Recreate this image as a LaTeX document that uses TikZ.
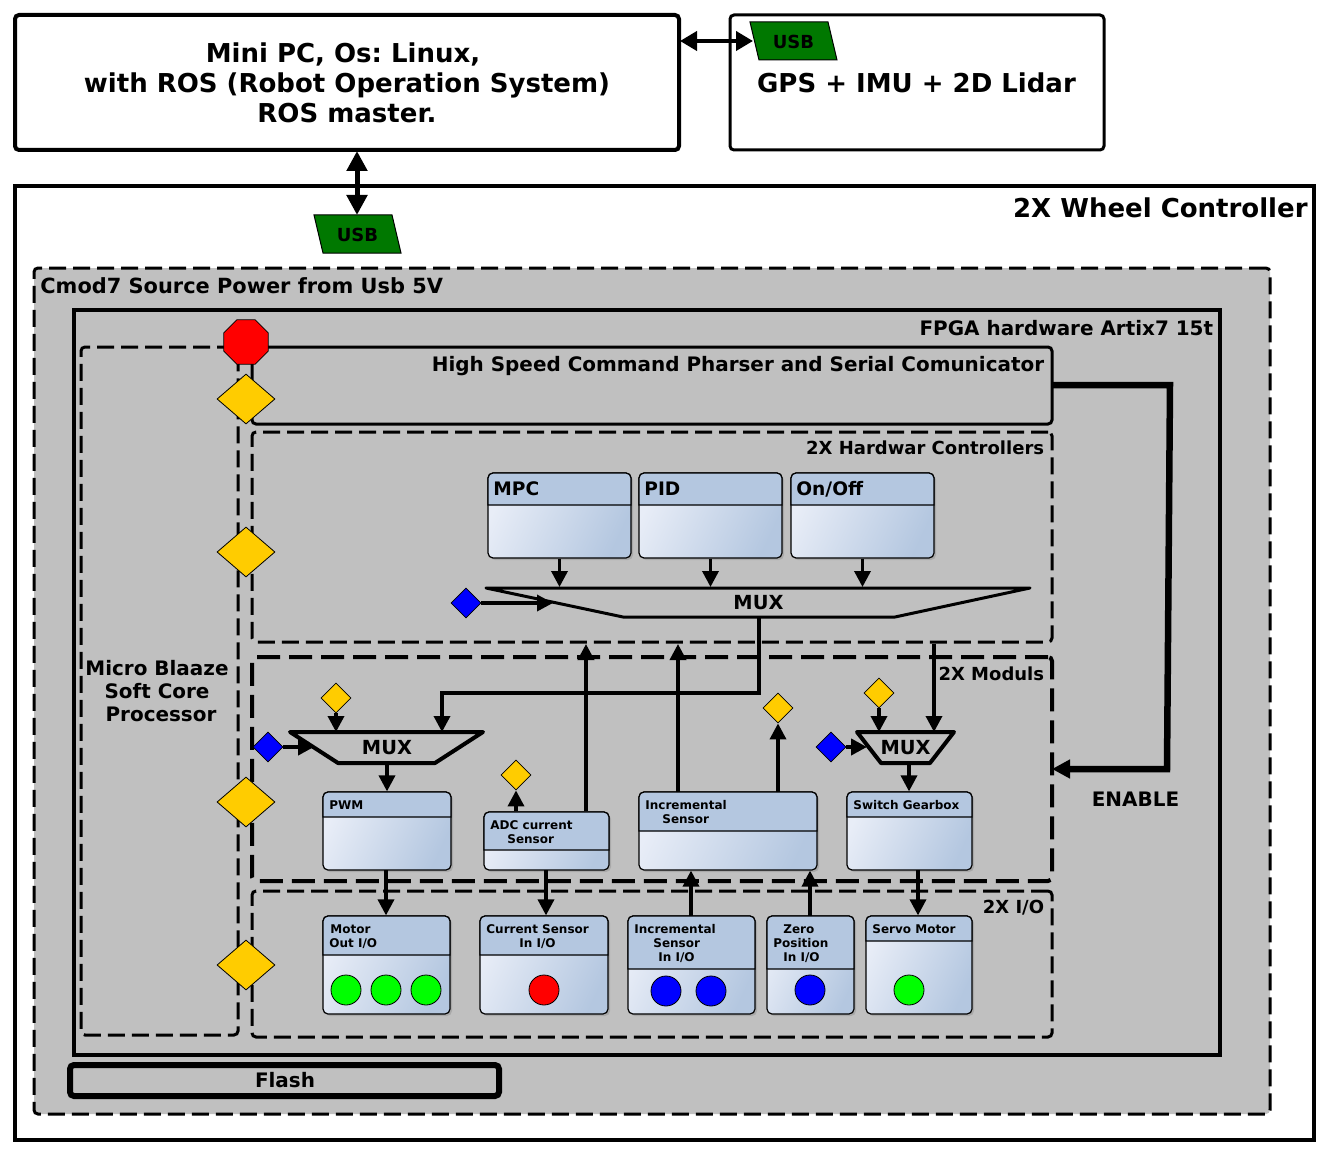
\documentclass[tikz,border=0pt]{standalone}
\usepackage{fontspec}
\setmainfont{DejaVu Sans}
\usetikzlibrary{arrows.meta,fit,shadows,shapes.geometric}
\definecolor{panelgray}{HTML}{C0C0C0}
\definecolor{headblue}{HTML}{B4C7E0}
\definecolor{lightblue}{HTML}{E8EDF7}
\definecolor{usbgreen}{HTML}{007800}
\definecolor{ctlyellow}{HTML}{FFCC00}
\newcommand{\ftXL}{\fontsize{13}{15}\selectfont\bfseries\frenchspacing}
\newcommand{\ftL}{\fontsize{10.45}{13}\selectfont\bfseries}
\newcommand{\ftM}{\fontsize{9.97}{11.5}\selectfont\bfseries}
\newcommand{\ftN}{\fontsize{9}{11}\selectfont\bfseries}
\newcommand{\ftT}{\fontsize{9.3}{11}\selectfont\bfseries\rule{0pt}{7.2pt}\hspace*{-0.5pt}}
\newcommand{\ftS}{\fontsize{6}{7}\selectfont\bfseries}
% body, header band and title of one block
\newcommand{\modbox}[7]{%
\node[modframe, fit={(#2,#3) (#4,#5)}] (#1) {};
\draw[fill=headblue, line width=0.6pt] (#2,#6) [rounded corners=2.5pt] -- (#2,#3) -- (#4,#3) [sharp corners] -- (#4,#6) -- cycle;
\node[modlabel] (#1T) at (#2,#3) {#7};
}
\newcommand{\usbtag}[3]{%
\draw[fill=usbgreen, line width=0.5pt] (#2,#3) -- ++(78,0) -- ++(9,38) -- ++(-78,0) -- cycle;
\node[inner sep=0pt, font=\fontsize{9}{10}\selectfont\bfseries] (#1) at (#2+43.5,#3+19.5) {USB};
}
\begin{document}
\begin{tikzpicture}[x=0.5pt, y=-0.5pt,
  frame/.style={draw, inner sep=0pt},
  dashA/.style={dash pattern=on 8.5pt off 3.5pt},
  dashB/.style={dash pattern=on 11.5pt off 4.5pt},
  modframe/.style={draw, inner sep=0pt, line width=0.6pt, rounded corners=2.5pt, top color=lightblue, bottom color=headblue, shading angle=65, drop shadow={opacity=0.35, shadow xshift=1pt, shadow yshift=-1pt}},
  modlabel/.style={anchor=north west, inner sep=0pt, xshift=3pt, yshift=-4pt, align=left, font=\ftS},
  bigdia/.style={draw, diamond, aspect=1.16, fill=ctlyellow, inner sep=0pt, line width=0.4pt, minimum width=29pt, minimum height=25pt},
  dia/.style={draw, diamond, fill=ctlyellow, inner sep=0pt, line width=0.4pt, minimum size=15pt},
  bluedia/.style={draw, diamond, fill=blue, inner sep=0pt, line width=0.4pt, minimum size=15pt},
  led/.style={draw, circle, inner sep=0pt, line width=0.4pt, minimum size=15pt},
  muxline/.style={line join=round, line cap=round},
  muxlabel/.style={inner sep=0pt, font=\fontsize{9.7}{12}\selectfont\bfseries},
  arr/.style={line width=1.75pt, -{Triangle[length=8pt,width=8pt]}},
  arrB/.style={line width=2pt, -{Triangle[length=8pt,width=8pt]}},
]
\path[use as bounding box, fill=white] (0,0) rectangle (1329,1156);
% top row
\node[frame, line width=2pt, rounded corners=2pt, fit={(15,15) (679,150)}] (minipc) {};
\node[inner sep=0pt, align=center, font=\ftXL] (minipcT) at (347,82.5) {Mini PC, Os: Linux,\hspace*{4pt}\\with ROS (Robot Operation System)\\ROS master.};
\node[frame, line width=1.5pt, rounded corners=2pt, fit={(730,15) (1104,150)}] (gps) {};
\node[font=\ftXL, inner sep=0pt] (gpsT) at (916.5,83) {GPS + IMU + 2D Lidar};
\usbtag{usbB}{750}{22}
\coordinate (usbBin) at (753,41);
\coordinate (minipcR) at (680,41);
\draw[line width=2pt, {Triangle[length=8.5pt,width=9.5pt]}-{Triangle[length=8.5pt,width=9.5pt]}] (minipcR) -- (usbBin);
% frames
\node[frame, line width=1.75pt, fit={(15,186) (1314,1140)}] (wheel) {};
\node[anchor=base east, inner sep=0pt, font=\ftXL] (wheelT) at (1308,218) {2X Wheel Controller};
\usbtag{usbA}{314}{215}
\coordinate (minipcB) at (357,151);
\coordinate (usbAin) at (357,215);
\draw[line width=2.5pt, {Triangle[length=10pt,width=10pt]}-{Triangle[length=10pt,width=10pt]}] (minipcB) -- (usbAin);
\node[frame, fill=panelgray, dashA, line width=1.5pt, rounded corners=2pt, fit={(34,268) (1270,1114)}] (cmod) {};
\node[anchor=base west, inner sep=0pt, font=\ftL] (cmodT) at (40,293) {Cmod7 Source Power from Usb 5V};
\node[frame, line width=2pt, fit={(74,310) (1220,1055)}] (fpga) {};
\node[anchor=base east, inner sep=0pt, font=\ftM] (fpgaT) at (1213.5,335) {FPGA hardware Artix7 15t};
\node[frame, dashA, line width=1.5pt, rounded corners=2pt, fit={(81,347) (238,1035)}] (blaze) {};
\node[align=center, inner sep=0pt, font=\ftM] (blazeT) at (157,691) {Micro Blaaze\\Soft Core\\\hspace*{4pt}Processor};
\node[frame, line width=1.5pt, rounded corners=2pt, fit={(252,347) (1052,424)}] (parser) {};
\node[anchor=base east, inner sep=0pt, font=\ftM] (parserT) at (1044.5,371) {High Speed Command Pharser and Serial Comunicator};
\node[frame, dashA, line width=1.5pt, rounded corners=2pt, fit={(252,432) (1052,642)}] (hwctl) {};
\node[anchor=base east, inner sep=0pt, font=\ftN] (hwctlT) at (1044.5,454) {2X Hardwar Controllers};
\node[frame, dashB, line width=2pt, rounded corners=2pt, fit={(252,657) (1052,881)}] (moduls) {};
\node[anchor=base east, inner sep=0pt, font=\ftN] (modulsT) at (1044.5,680) {2X Moduls};
\node[frame, dashA, line width=1.5pt, rounded corners=2pt, fit={(252,891) (1052,1037)}] (ioframe) {};
\node[anchor=base east, inner sep=0pt, font=\ftN] (ioframeT) at (1044.5,913) {2X I/O};
\node[frame, line width=3pt, rounded corners=2pt, fit={(70,1065) (499,1096)}] (flash) {};
\node[inner sep=0pt, font=\ftM] (flashT) at (285,1080) {Flash};
% side controls
\node[draw, regular polygon, regular polygon sides=8, fill=red, inner sep=0pt, line width=0.4pt, minimum size=24pt] (stop) at (246,342) {};
\node[bigdia] (ctlA) at (246,399) {};
\node[bigdia] (ctlB) at (246,552) {};
\node[bigdia] (ctlC) at (246,802) {};
\node[bigdia] (ctlD) at (246,965) {};
% blocks
\modbox{mpc}{488}{473}{631}{558}{505}{\ftT MPC}
\modbox{pid}{639}{473}{782}{558}{505}{\ftT PID}
\modbox{onoff}{791}{473}{934}{558}{505}{\ftT On/Off}
\modbox{pwm}{323}{792}{451}{870}{817}{PWM}
\modbox{adc}{484}{812}{609}{870}{850}{ADC current\\\hspace*{8.5pt}Sensor}
\modbox{incr}{639}{792}{817}{870}{831}{Incremental\\\hspace*{8.5pt}Sensor}
\modbox{gearbox}{847}{792}{972}{870}{817}{Switch Gearbox}
\modbox{motorio}{323}{916}{450}{1014}{955}{\hspace*{0.5pt}Motor\\Out I/O}
\modbox{currio}{480}{916}{608}{1014}{955}{Current Sensor\\\hspace*{16.5pt}In I/O}
\modbox{incrio}{628}{916}{755}{1014}{969}{Incremental\\\hspace*{9.5pt}Sensor\\\hspace*{12pt}In I/O}
\modbox{zeroio}{767}{916}{854}{1014}{969}{\hspace*{5pt}Zero\\Position\\\hspace*{5pt}In I/O}
\modbox{servoio}{866}{916}{972}{1014}{941}{Servo Motor}
% leds
\node[led, fill=green] (ledA) at (346,990) {};
\node[led, fill=green] (ledB) at (386,990) {};
\node[led, fill=green] (ledC) at (426,990) {};
\node[led, fill=red] (ledD) at (544,990) {};
\node[led, fill=blue] (ledE) at (666,991) {};
\node[led, fill=blue] (ledF) at (711,991) {};
\node[led, fill=blue] (ledG) at (810,990) {};
\node[led, fill=green] (ledH) at (909,990) {};
% muxes
\draw[muxline, line width=1.5pt] (486,588) -- (1030,588) -- (895,617) -- (623,617) -- cycle;
\draw[muxline, line width=2pt] (290,732) -- (483,732) -- (435,763) -- (338,763) -- cycle;
\draw[muxline, line width=2pt] (857,732) -- (954,732) -- (930,763) -- (881,763) -- cycle;
\node[muxlabel] (muxA) at (758.5,602.5) {MUX};
\node[muxlabel] (muxB) at (387,747.5) {MUX};
\node[muxlabel] (muxC) at (905.5,747.5) {MUX};
\coordinate (muxAtop) at (758,587);
\node[bluedia] (blueA) at (466,603) {};
\node[bluedia] (blueB) at (268,747) {};
\node[bluedia] (blueC) at (831,747) {};
\node[dia] (selB) at (336,698) {};
\node[dia] (selC) at (879,693) {};
\node[dia] (adcflag) at (516,775) {};
\node[dia] (incrflag) at (778,708) {};
% free ends
\coordinate (muxAin) at (553,603);
\coordinate (muxBin) at (314,747);
\coordinate (muxCin) at (867,747);
\coordinate (muxAout) at (759,617);
\coordinate (muxBtop) at (442,732);
\coordinate (muxBsel) at (336,732);
\coordinate (muxCsel) at (879,732);
\coordinate (muxCtop) at (934,732);
\coordinate (muxBout) at (387,763);
\coordinate (muxCout) at (909,763);
\coordinate (adcup) at (586,811);
\coordinate (adcflagin) at (516,811);
\coordinate (incrup) at (678,792);
\coordinate (incrflagin) at (778,792);
\coordinate (incrioup) at (691,916);
\coordinate (zeroup) at (810,916);
\coordinate (pwmout) at (386,870);
\coordinate (adcout) at (546,870);
\coordinate (gearout) at (918,870);
\coordinate (parserR) at (1052,385);
\coordinate (modulsR) at (1052,769);
\coordinate (enableA) at (1170,385);
\coordinate (enableB) at (1167,769);
% connectors
\draw[arr] (mpc.south) -- (mpc.south |- muxAtop);
\draw[arr] (pid.south) -- (pid.south |- muxAtop);
\draw[arr] (onoff.south) -- (onoff.south |- muxAtop);
\draw[arr] (blueA.east) -- (muxAin);
\draw[line width=1.75pt, -{Triangle[length=8pt,width=8pt]}] (muxAout) -- (muxAout |- 0,693) -| (muxBtop);
\draw[arr] (adcup) -- (adcup |- 0,644);
\draw[arr] (incrup) -- (incrup |- 0,644);
\draw[arr] (incrflagin) -- (incrflag.south);
\draw[arr] (adcflagin) -- (adcflag.south);
\draw[arr] (muxCtop |- hwctl.south) -- (muxCtop);
\draw[arrB] (blueB.east) -- (muxBin);
\draw[arr] (selB.south) -- (muxBsel);
\draw[arr] (selC.south) -- (muxCsel);
\draw[arrB] (blueC.east) -- (muxCin);
\draw[arr] (muxBout) -- (muxBout |- pwm.north);
\draw[arr] (muxCout) -- (muxCout |- gearbox.north);
\draw[arr] (pwmout) -- (pwmout |- motorio.north);
\draw[arr] (adcout) -- (adcout |- currio.north);
\draw[arr] (gearout) -- (gearout |- servoio.north);
\draw[arr] (incrioup) -- (incrioup |- incr.south);
\draw[arr] (zeroup) -- (zeroup |- incr.south);
\draw[line width=3.25pt, -{Triangle[length=9pt,width=9pt]}] (parserR) -- (enableA) -- (enableB) -- (modulsR);
\node[anchor=base, inner sep=0pt, font=\ftM] (enableT) at (1135.5,806) {ENABLE};
\end{tikzpicture}
\end{document}
